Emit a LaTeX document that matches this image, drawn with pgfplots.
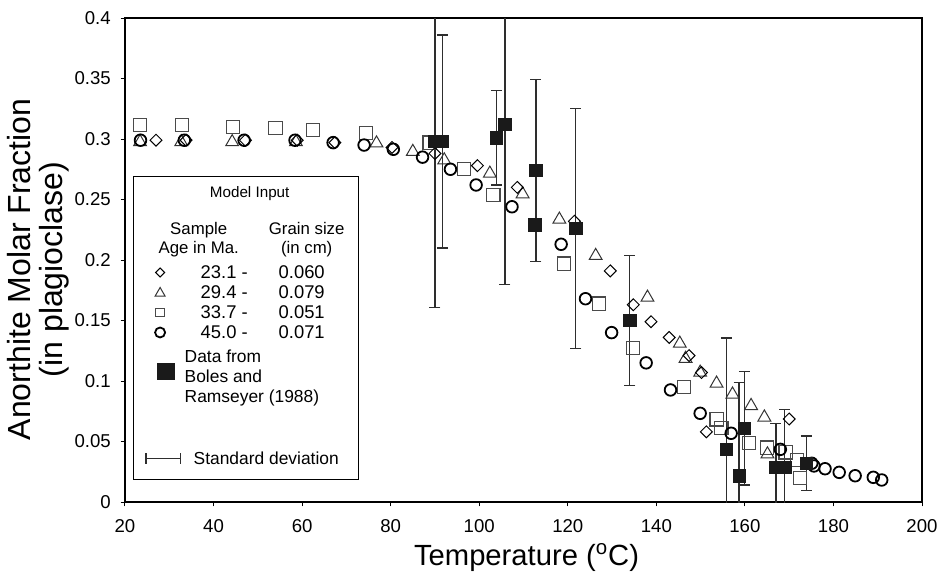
\documentclass[border=0pt]{standalone}
\usepackage{pgfplots}
\usepackage{pgfplotstable}
\pgfplotsset{compat=1.18}
\usepackage{fontspec}
\setmainfont{Liberation Sans}
\definecolor{sqgray}{HTML}{4A4A4A}
\definecolor{trigray}{HTML}{333333}
\definecolor{ebgray}{HTML}{2E2E2E}
\definecolor{blk}{HTML}{1A1A1A}

\pgfplotstableread{
x y
27.0 0.299
33.8 0.299
47.2 0.299
58.9 0.299
67.4 0.297
80.3 0.293
90.0 0.288
99.6 0.278
108.6 0.260
121.5 0.232
129.6 0.191
134.8 0.163
138.8 0.149
142.9 0.136
147.4 0.121
150.2 0.107
151.3 0.058
170.0 0.0686
}\diamonds

\pgfplotstableread{
x y
23.4 0.2975
32.7 0.2975
44.2 0.2975
58.6 0.2975
76.8 0.2965
85.0 0.2895
92.1 0.2825
102.4 0.2715
109.8 0.2545
118.1 0.2335
126.3 0.2035
138.0 0.1690
145.3 0.1310
146.6 0.1185
149.9 0.1070
153.6 0.0980
157.2 0.0890
161.4 0.0795
164.4 0.0700
165.1 0.0395
}\triangles

\pgfplotstableread{
x y
23.4 0.3115
32.9 0.3115
44.4 0.3097
54.0 0.309
62.5 0.3074
74.4 0.305
88.8 0.297
96.6 0.275
103.2 0.254
119.2 0.197
127.1 0.164
134.7 0.1275
146.2 0.0953
153.6 0.0683
154.7 0.0614
160.9 0.049
165.0 0.045
169.2 0.041
171.7 0.0347
172.4 0.0196
}\squares

\pgfplotstableread{
x y
23.5 0.299
33.4 0.299
46.9 0.299
58.4 0.299
67.0 0.297
74.0 0.295
80.6 0.2915
87.2 0.285
93.5 0.275
99.3 0.262
107.4 0.244
118.5 0.213
124.0 0.168
129.9 0.140
137.7 0.115
143.2 0.0926
149.9 0.0733
156.9 0.0568
168.0 0.0435
175.1 0.032
175.6 0.0298
178.1 0.0275
181.3 0.0245
184.9 0.0217
189.0 0.0204
190.9 0.0182
}\circles

\pgfplotstableread{
x y e
90.0 0.298 0.137
91.7 0.298 0.088
103.9 0.301 0.039
105.8 0.312 0.132
112.8 0.274 0.075
112.6 0.229 0
121.8 0.226 0.099
134.0 0.150 0.054
155.8 0.0435 0.092
158.7 0.0215 0.0775
159.9 0.061 0.047
167.0 0.0287 0.036
169.0 0.0287 0.048
173.9 0.032 0.0225
}\boles

\pgfplotsset{
  ebleg/.style={legend image code/.code={%
     \draw[ebgray, line width=0.6bp] (0bp,-2.75bp) -- (0bp,2.75bp) (0bp,0bp) -- (17bp,0bp) (17bp,-2.75bp) -- (17bp,2.75bp);}},
  legDiamond/.style={legend image code/.code={%
     \path[draw=none] (0bp,0bp) -- (17bp,0bp);
     \path[draw=black, line width=0.5bp] plot[only marks, mark=square, mark size=1.6bp, mark options={rotate=45}] coordinates {(7bp,0bp)};}},
  legTriangle/.style={legend image code/.code={%
     \path[draw=none] (0bp,0bp) -- (17bp,0bp);
     \path[draw=trigray, line width=0.5bp] plot[only marks, mark=triangle, mark size=2.9bp] coordinates {(7bp,-0.4bp)};}},
  legSquare/.style={legend image code/.code={%
     \path[draw=none] (0bp,0bp) -- (17bp,0bp);
     \path[draw=sqgray, line width=0.55bp] plot[only marks, mark=square, mark size=2.1bp] coordinates {(7bp,0bp)};}},
  legCircle/.style={legend image code/.code={%
     \path[draw=none] (0bp,0bp) -- (17bp,0bp);
     \path[draw=black, line width=0.9bp] plot[only marks, mark=o, mark size=2.5bp] coordinates {(7bp,0bp)};}},
  legBlack/.style={legend image code/.code={%
     \path[draw=none] (0bp,0bp) -- (17bp,0bp);
     \path[draw=blk, fill=blk] plot[only marks, mark=square*, mark size=4.2bp] coordinates {(10bp,0bp)};}},
}
\newcommand{\rowbox}[3]{\raisebox{0pt}[#1][#2]{#3}}

\begin{document}
\begin{tikzpicture}
\useasboundingbox (-62.5bp,-35.5bp) rectangle (407.5bp,251bp);
\begin{axis}[
  at={(0bp,0bp)}, anchor=south west,
  scale only axis, width=398.5bp, height=242bp,
  xmin=20, xmax=200, ymin=0, ymax=0.4,
  xtick={20,40,60,80,100,120,140,160,180,200},
  xticklabels={20,40,60,80,100,120,140,160,180,200},
  ytick={0,0.05,0.1,0.15,0.2,0.25,0.3,0.35,0.4},
  yticklabels={0,0.05,0.1,0.15,0.2,0.25,0.3,0.35,0.4},
  xtick pos=left, ytick pos=left,
  tick align=outside, major tick length=2.2bp,
  every tick/.style={black, line width=0.5bp},
  axis line style={line width=0.8bp},
  tick label style={font=\fontsize{9.3bp}{11bp}\selectfont},
  xticklabel style={yshift=-3bp},
  yticklabel style={xshift=-1.4bp},
  xlabel={Temperature (\textsuperscript{o}C)},
  xlabel style={at={(rel axis cs:0.5038,0)}, anchor=base, yshift=-31.5bp, font=\fontsize{14.6bp}{17bp}\selectfont},
  ylabel={Anorthite Molar Fraction\\(in plagioclase)},
  ylabel style={at={(rel axis cs:-0.1085,0.4804)}, anchor=center, align=center, font=\fontsize{16bp}{16bp}\selectfont},
  legend style={
    at={(rel axis cs:0.01004,0.6736)}, anchor=north west,
    draw=black, line width=0.5bp, fill=white,
    inner xsep=6bp, inner ysep=0bp,
    font=\fontsize{8.7bp}{10bp}\selectfont,
    nodes={inner sep=0pt, text depth=},
    column sep=0pt, row sep=0pt,
  },
  legend cell align=left,
]
\addplot[forget plot, only marks, mark=square, mark size=3.3bp, color=sqgray, line width=0.55bp] table[x=x,y=y] {\squares};
\addplot[forget plot, only marks, mark=triangle, mark size=3.7bp, color=trigray, line width=0.5bp] table[x=x,y=y] {\triangles};
\addplot[forget plot, only marks, mark=square, mark options={rotate=45}, mark size=2.1bp, color=black, line width=0.5bp] table[x=x,y=y] {\diamonds};
\addplot[forget plot, only marks, mark=o, mark size=2.9bp, color=black, line width=0.9bp] table[x=x,y=y] {\circles};
\addplot[forget plot, only marks, mark=none,
  error bars/.cd, y dir=both, y explicit,
  error bar style={draw=ebgray, line width=0.65bp},
  error mark options={rotate=90, mark size=2.75bp, draw=ebgray, line width=0.65bp}]
  table[x=x, y=y, y error=e] {\boles};
\addplot[forget plot, only marks, mark=square*, mark size=3.1bp, color=blk, fill=blk] table[x=x,y=y] {\boles};

\addlegendimage{empty legend}
\addlegendentry{\makebox[83bp][l]{\rowbox{10.72bp}{5.28bp}{\hspace*{34.5bp}\makebox[0pt][c]{\fontsize{7.6bp}{9bp}\selectfont Model Input}}}}
\addlegendimage{empty legend}
\addlegendentry{\rowbox{17.65bp}{9.35bp}{\fontsize{8.4bp}{9.5bp}\selectfont\hspace*{9bp}\makebox[0pt][c]{\begin{tabular}[c]{@{}c@{}}Sample\\Age in Ma.\end{tabular}}\hspace*{54bp}\makebox[0pt][c]{\begin{tabular}[c]{@{}c@{}}Grain size\\(in cm)\end{tabular}}}}
\addlegendimage{legDiamond}
\addlegendentry{\rowbox{8.1bp}{1.9bp}{\fontsize{9.2bp}{10bp}\selectfont\hspace*{10bp}\makebox[39bp][l]{23.1 -}0.060}}
\addlegendimage{legTriangle}
\addlegendentry{\rowbox{8.1bp}{1.9bp}{\fontsize{9.2bp}{10bp}\selectfont\hspace*{10bp}\makebox[39bp][l]{29.4 -}0.079}}
\addlegendimage{legSquare}
\addlegendentry{\rowbox{8.1bp}{1.9bp}{\fontsize{9.2bp}{10bp}\selectfont\hspace*{10bp}\makebox[39bp][l]{33.7 -}0.051}}
\addlegendimage{legCircle}
\addlegendentry{\rowbox{8.1bp}{1.9bp}{\fontsize{9.2bp}{10bp}\selectfont\hspace*{10bp}\makebox[39bp][l]{45.0 -}0.071}}
\addlegendimage{legBlack}
\addlegendentry{\rowbox{20.3bp}{8.7bp}{\hspace*{2bp}\begin{tabular}[c]{@{}l@{}}Data from\\Boles and\\Ramseyer (1988)\end{tabular}}}
\addlegendimage{empty legend}
\addlegendentry{\rule{0pt}{18.5bp}}
\addlegendimage{ebleg}
\addlegendentry{\rowbox{13.6bp}{7.4bp}{\hspace*{6.5bp}Standard deviation}}
\end{axis}
\end{tikzpicture}
\end{document}
